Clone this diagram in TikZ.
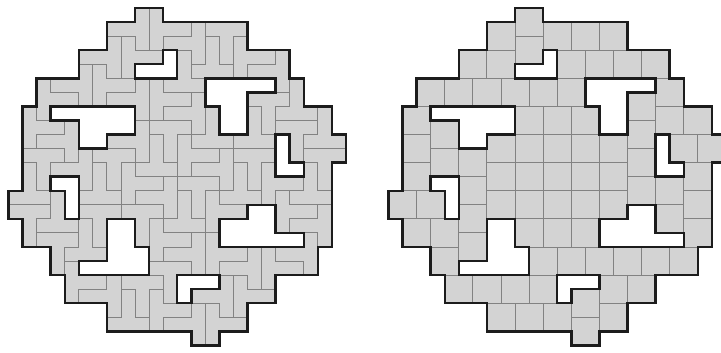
\documentclass[tikz,border=0pt]{standalone}
\definecolor{tilefill}{RGB}{211,211,211}
\definecolor{tileline}{RGB}{130,130,130}
\definecolor{outlinecol}{RGB}{28,28,28}
\tikzset{
  tpline/.style={draw=tileline, line width=0.9pt},
  sqline/.style={draw=tileline, line width=0.9pt},
  borderline/.style={draw=outlinecol, line width=2.5pt, line join=miter},
}
% region with its eight holes
\newcommand\regionshape[1]{\path[#1]
 (9,0) -- (11,0) -- (11,1) -- (17,1) -- (17,3) -- (20,3) -- (20,5) -- (21,5) -- (21,7) -- (23,7) -- (23,9) -- (24,9) -- (24,11) -- (23,11) -- (23,17) -- (22,17) -- (22,19) -- (19,19) -- (19,21) -- (17,21) -- (17,23) -- (15,23) -- (15,24) -- (13,24) -- (13,23) -- (7,23) -- (7,21) -- (4,21) -- (4,19) -- (3,19) -- (3,17) -- (1,17) -- (1,15) -- (0,15) -- (0,13) -- (1,13) -- (1,7) -- (2,7) -- (2,5) -- (5,5) -- (5,3) -- (7,3) -- (7,1) -- (9,1) -- cycle
 (9,4) -- (11,4) -- (11,3) -- (12,3) -- (12,5) -- (9,5) -- cycle
 (3,7) -- (9,7) -- (9,9) -- (7,9) -- (7,10) -- (5,10) -- (5,8) -- (3,8) -- cycle
 (14,5) -- (19,5) -- (19,6) -- (17,6) -- (17,9) -- (15,9) -- (15,7) -- (14,7) -- cycle
 (19,9) -- (20,9) -- (20,11) -- (21,11) -- (21,12) -- (19,12) -- cycle
 (3,12) -- (5,12) -- (5,15) -- (4,15) -- (4,13) -- (3,13) -- cycle
 (7,15) -- (9,15) -- (9,17) -- (10,17) -- (10,19) -- (5,19) -- (5,18) -- (7,18) -- cycle
 (17,14) -- (19,14) -- (19,16) -- (21,16) -- (21,17) -- (15,17) -- (15,15) -- (17,15) -- cycle
 (12,19) -- (15,19) -- (15,20) -- (13,20) -- (13,21) -- (12,21) -- cycle;}
% T-pentomino: middle cell of the bar at (#1,#2), stem pointing R/L/D/U
\newcommand\tpR[2]{\draw[tpline] (#1,#2) ++(0,-1) -- ++(1,0) -- ++(0,1) -- ++(2,0) -- ++(0,1) -- ++(-2,0) -- ++(0,1) -- ++(-1,0) -- cycle;}
\newcommand\tpL[2]{\draw[tpline] (#1,#2) ++(1,-1) -- ++(-1,0) -- ++(0,1) -- ++(-2,0) -- ++(0,1) -- ++(2,0) -- ++(0,1) -- ++(1,0) -- cycle;}
\newcommand\tpD[2]{\draw[tpline] (#1,#2) ++(-1,0) -- ++(3,0) -- ++(0,1) -- ++(-1,0) -- ++(0,2) -- ++(-1,0) -- ++(0,-2) -- ++(-1,0) -- cycle;}
\newcommand\tpU[2]{\draw[tpline] (#1,#2) ++(-1,1) -- ++(3,0) -- ++(0,-1) -- ++(-1,0) -- ++(0,-2) -- ++(-1,0) -- ++(0,2) -- ++(-1,0) -- cycle;}
\begin{document}
\begin{tikzpicture}[x=5mm,y=-5mm]
\useasboundingbox (-0.605,-0.569) rectangle (50.68,24.47);
\clip (-0.605,-0.569) rectangle (50.68,24.47);
% ---------- left: tiling by T-pentominoes ----------
\begin{scope}
  \regionshape{fill=tilefill, even odd rule}
  \foreach \c/\r/\d in {
    9/1/L, 10/1/R, 7/3/L, 8/3/R, 13/2/L, 15/1/D, 14/4/U, 12/5/U, 16/3/R, 19/4/L,
    6/5/R, 5/5/L, 2/6/R, 1/8/R, 4/9/L, 2/10/D, 5/11/L, 9/6/L, 10/6/R, 13/7/L,
    14/9/U, 20/7/U, 18/6/D, 17/9/U, 20/8/D, 22/9/U, 22/10/D, 17/10/D, 7/10/D, 9/9/L,
    11/8/D, 10/11/U, 12/10/R, 15/11/L,
    14/22/R, 13/22/L, 16/20/R, 15/20/L, 10/21/R, 8/22/U, 9/19/D, 11/18/D, 7/20/L, 4/19/R,
    17/18/L, 18/18/R, 21/17/L, 22/15/L, 19/14/R, 21/13/U, 18/12/R, 14/17/R, 13/17/L, 10/16/R,
    9/14/D, 3/16/D, 5/17/U, 6/14/D, 3/15/U, 1/14/D, 1/13/U, 6/13/U, 16/13/U, 14/14/R,
    12/15/U, 13/12/D, 11/13/L, 8/12/R}
    {\csname tp\d\endcsname{\c}{\r}}
  \regionshape{borderline}
\end{scope}
% ---------- right: tiling by 2x2 squares ----------
\begin{scope}[shift={(27.03,0)}]
  \regionshape{fill=tilefill, even odd rule}
  \foreach \x/\y in {
    9/0, 7/1, 11/1, 13/1, 15/1, 9/2, 5/3, 7/3, 12/3, 14/3, 16/3, 18/3,
    2/5, 4/5, 6/5, 8/5, 10/5, 12/5, 19/5, 17/6,
    1/7, 9/7, 11/7, 13/7, 19/7, 21/7, 3/8, 17/8,
    1/9, 7/9, 9/9, 11/9, 13/9, 15/9, 20/9, 22/9, 3/10, 5/10, 17/10,
    1/11, 7/11, 9/11, 11/11, 13/11, 15/11, 21/11,
    13/22, 15/21, 11/21, 9/21, 7/21, 13/20, 17/19, 15/19, 10/19, 8/19, 6/19, 4/19,
    20/17, 18/17, 16/17, 14/17, 12/17, 10/17, 3/17, 5/16,
    21/15, 13/15, 11/15, 9/15, 3/15, 1/15, 19/14, 5/14,
    21/13, 15/13, 13/13, 11/13, 9/13, 7/13, 2/13, 0/13, 19/12, 17/12, 5/12}
    {\draw[sqline] (\x,\y) rectangle ++(2,2);}
  \regionshape{borderline}
\end{scope}
\end{tikzpicture}
\end{document}
